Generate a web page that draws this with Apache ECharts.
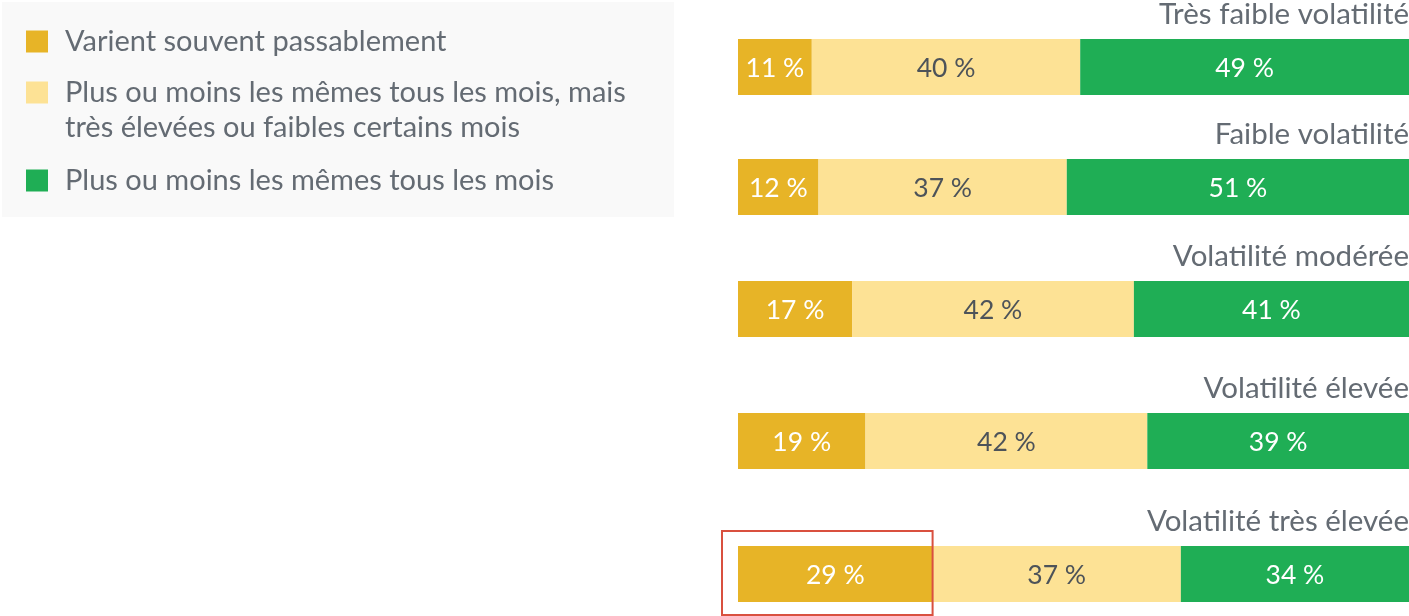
<!DOCTYPE html>
<html>
<head>
<meta charset="utf-8">
<script src="https://cdn.jsdelivr.net/npm/echarts@6/dist/echarts.min.js"></script>
<style>
  html, body { margin: 0; padding: 0; background: #fff; }
  #main { width: 1409px; height: 616px; }
</style>
</head>
<body>
<div id="main"></div>
<script>
const categories = ['Très faible volatilité', 'Faible volatilité', 'Volatilité modérée', 'Volatilité élevée', 'Volatilité très élevée'];
const seriesNames = [
  'Varient souvent passablement',
  'Plus ou moins les mêmes tous les mois, mais\ntrès élevées ou faibles certains mois',
  'Plus ou moins les mêmes tous les mois'
];
const varient = [11, 12, 17, 19, 29];
const certainsMois = [40, 37, 42, 42, 37];
const memes = [49, 51, 41, 39, 34];

const colors = ['#e7b427', '#fde295', '#1fae55'];
const labelColors = ['#ffffff', '#4d5359', '#ffffff'];
const textGrey = '#646b73';
const font = 'Lato';

// layout of each bar row
const rowTops = [39, 159, 281, 413, 546];
const rowHeight = 56;
const legendTops = [24, 40, 163];

const values = [varient, certainsMois, memes];

const grid = [], xAxis = [], yAxis = [], series = [], title = [];
categories.forEach((cat, i) => {
  grid.push({ left: 738, right: 0, top: rowTops[i], height: rowHeight });
  xAxis.push({ gridIndex: i, type: 'value', min: 0, max: 100, show: false });
  yAxis.push({ gridIndex: i, type: 'category', data: [cat], show: false });
  title.push({
    text: cat, right: 0, top: rowTops[i] - 43, padding: 0,
    textStyle: { fontFamily: font, fontSize: 29.5, fontWeight: 'normal', color: textGrey, lineHeight: 36 }
  });
  values.forEach((vals, j) => {
    series.push({
      type: 'bar', name: seriesNames[j], stack: 'row' + i,
      xAxisIndex: i, yAxisIndex: i, barWidth: '100%',
      data: [vals[i]],
      itemStyle: { color: colors[j] },
      label: { show: true, position: 'inside', offset: [0, 1.5], formatter: '{c} %', fontFamily: font, fontSize: 26.5, color: labelColors[j] },
      emphasis: { disabled: true }
    });
  });
});

// one legend per entry so each can sit where it does in the original;
// the two-line entry gets a blank first line so its icon lines up with line one
const legend = seriesNames.map((n, j) => ({
  data: [n], left: 26, top: legendTops[j], padding: 0,
  icon: 'rect', itemWidth: 22, itemHeight: 22,
  formatter: name => (j === 1 ? '\n' + name : name),
  textStyle: { fontFamily: font, fontSize: 29, color: textGrey, lineHeight: 35, padding: [0, 0, 0, 12] }
}));

const chart = echarts.init(document.getElementById('main'));
chart.setOption({
  animation: false,
  title, legend, grid, xAxis, yAxis, series
});

// highlight box around the first segment of the last row
const last = categories.length - 1;
const p0 = chart.convertToPixel({ gridIndex: last }, [0, categories[last]]);
const p1 = chart.convertToPixel({ gridIndex: last }, [varient[last], categories[last]]);
chart.setOption({
  graphic: [
    { type: 'rect', left: 2, top: 2, z: -10, shape: { width: 672, height: 215 }, style: { fill: '#f9f9f9' } },
    { type: 'rect', z: 10,
      shape: { x: p0[0] - 16, y: p0[1] - rowHeight / 2 - 15, width: p1[0] - p0[0] + 16, height: rowHeight + 28 },
      style: { fill: 'none', stroke: '#d9503f', lineWidth: 2 } }
  ]
});
</script>
</body>
</html>
